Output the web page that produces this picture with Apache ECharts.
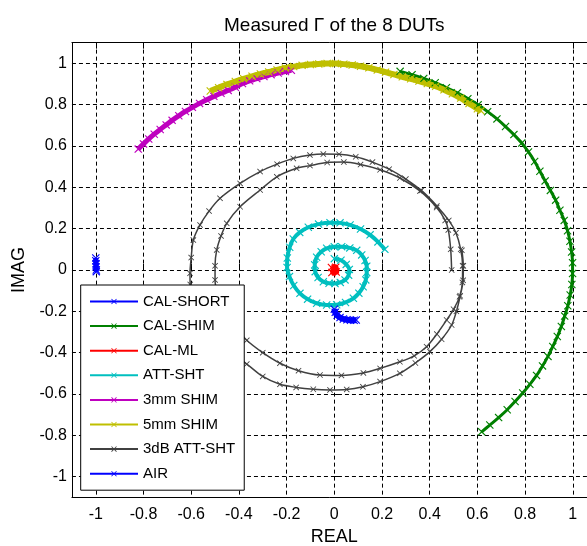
<!DOCTYPE html>
<html>
<head>
<meta charset="utf-8">
<script src="https://cdn.jsdelivr.net/npm/echarts@6/dist/echarts.min.js"></script>
<style>
  html, body { margin: 0; padding: 0; background: #fff; }
  #chart { width: 587px; height: 546px; }
</style>
</head>
<body>
<div id="chart"></div>
<script>
// Reflection coefficient traces, [REAL, IMAG] pairs
const calShort = [[-1.000, 0.058], [-1.000, 0.045], [-0.999, 0.030], [-0.999, 0.015], [-0.998, 0.000], [-0.998, -0.008]];

const calShim = [
  [0.276, 0.961], [0.326, 0.945], [0.375, 0.927], [0.423, 0.906], [0.470, 0.882], [0.516, 0.857],
  [0.560, 0.829], [0.603, 0.799], [0.643, 0.766], [0.682, 0.731], [0.718, 0.694], [0.753, 0.655],
  [0.786, 0.614], [0.814, 0.571], [0.840, 0.525], [0.862, 0.478], [0.884, 0.431], [0.906, 0.385],
  [0.928, 0.338], [0.946, 0.289], [0.964, 0.240], [0.978, 0.190], [0.988, 0.139], [0.995, 0.087],
  [0.999, 0.035], [0.999, -0.017], [0.996, -0.070], [0.989, -0.121], [0.979, -0.173], [0.966, -0.223],
  [0.952, -0.273], [0.935, -0.322], [0.916, -0.370], [0.896, -0.418], [0.873, -0.464], [0.848, -0.510],
  [0.820, -0.553], [0.790, -0.595], [0.758, -0.636], [0.725, -0.676], [0.689, -0.714], [0.652, -0.750],
  [0.618, -0.783]
];

const calMl = [[-0.012, 0.012], [0.006, 0.013], [0.008, -0.010], [-0.010, -0.012], [-0.002, 0.000]];

const attSht = [
  [0.000, 0.055], [0.028, 0.047], [0.050, 0.027], [0.063, 0.003], [0.060, -0.025], [0.045, -0.048],
  [0.025, -0.060], [0.003, -0.065], [-0.022, -0.064], [-0.046, -0.057], [-0.068, -0.036], [-0.080, -0.008],
  [-0.082, 0.025], [-0.074, 0.062], [-0.055, 0.088], [-0.032, 0.105], [0.000, 0.113], [0.031, 0.113],
  [0.065, 0.107], [0.094, 0.095], [0.115, 0.073], [0.129, 0.046], [0.136, 0.018], [0.136, -0.012],
  [0.132, -0.048], [0.121, -0.081], [0.103, -0.112], [0.080, -0.137], [0.047, -0.157], [0.010, -0.168],
  [-0.032, -0.169], [-0.074, -0.161], [-0.112, -0.141], [-0.144, -0.113], [-0.170, -0.075], [-0.188, -0.032],
  [-0.198, 0.012], [-0.197, 0.058], [-0.187, 0.110], [-0.172, 0.150], [-0.145, 0.182], [-0.109, 0.207],
  [-0.066, 0.222], [-0.018, 0.229], [0.024, 0.228], [0.066, 0.218], [0.110, 0.198], [0.150, 0.170],
  [0.183, 0.136], [0.212, 0.100]
];

const shim3mm = [
  [-0.822, 0.585], [-0.800, 0.610], [-0.778, 0.634], [-0.755, 0.657], [-0.730, 0.680], [-0.705, 0.702],
  [-0.680, 0.724], [-0.652, 0.746], [-0.624, 0.767], [-0.595, 0.787], [-0.565, 0.806], [-0.535, 0.824],
  [-0.505, 0.840], [-0.475, 0.855], [-0.445, 0.869], [-0.415, 0.884], [-0.385, 0.902], [-0.355, 0.915],
  [-0.325, 0.926], [-0.295, 0.936], [-0.265, 0.945], [-0.235, 0.953], [-0.205, 0.960], [-0.180, 0.966]
];

const shim5mm = [
  [-0.520, 0.866], [-0.485, 0.882], [-0.450, 0.898], [-0.415, 0.912], [-0.380, 0.925], [-0.345, 0.937],
  [-0.310, 0.948], [-0.275, 0.958], [-0.240, 0.968], [-0.205, 0.977], [-0.170, 0.984], [-0.135, 0.990],
  [-0.100, 0.994], [-0.065, 0.997], [-0.030, 0.999], [0.005, 0.999], [0.040, 0.996], [0.075, 0.992],
  [0.110, 0.986], [0.145, 0.978], [0.180, 0.968], [0.215, 0.957], [0.250, 0.946], [0.285, 0.935],
  [0.320, 0.925], [0.355, 0.914], [0.390, 0.902], [0.425, 0.889], [0.460, 0.872], [0.495, 0.853],
  [0.530, 0.832], [0.565, 0.806], [0.600, 0.780], [0.615, 0.770]
];

const att3dB = [
  [0.535, 0.095], [0.541, 0.020], [0.540, -0.050], [0.528, -0.125], [0.512, -0.200], [0.492, -0.266],
  [0.450, -0.335], [0.401, -0.395], [0.340, -0.450], [0.275, -0.500], [0.192, -0.540], [0.120, -0.565],
  [0.052, -0.578], [-0.018, -0.580], [-0.088, -0.577], [-0.160, -0.568], [-0.228, -0.553], [-0.300, -0.515],
  [-0.367, -0.455], [-0.440, -0.400], [-0.505, -0.330], [-0.555, -0.250], [-0.588, -0.160], [-0.604, -0.070],
  [-0.605, -0.016], [-0.600, 0.060], [-0.591, 0.145], [-0.563, 0.218], [-0.525, 0.285], [-0.479, 0.347],
  [-0.395, 0.419], [-0.311, 0.476], [-0.240, 0.512], [-0.172, 0.540], [-0.102, 0.556], [-0.046, 0.561],
  [0.020, 0.560], [0.090, 0.548], [0.160, 0.522], [0.230, 0.488], [0.300, 0.440], [0.365, 0.385],
  [0.430, 0.310], [0.480, 0.240], [0.510, 0.180], [0.530, 0.100], [0.538, 0.020], [0.537, -0.060],
  [0.525, -0.130], [0.500, -0.190], [0.471, -0.242], [0.430, -0.310], [0.387, -0.371], [0.335, -0.415],
  [0.275, -0.444], [0.192, -0.476], [0.122, -0.498], [0.030, -0.510], [-0.060, -0.508], [-0.150, -0.487],
  [-0.228, -0.451], [-0.300, -0.400], [-0.367, -0.340], [-0.420, -0.270], [-0.462, -0.190], [-0.490, -0.110],
  [-0.500, -0.048], [-0.500, 0.020], [-0.493, 0.097], [-0.475, 0.165], [-0.451, 0.226], [-0.395, 0.306],
  [-0.311, 0.387], [-0.241, 0.451], [-0.158, 0.492], [-0.102, 0.505], [-0.030, 0.520], [0.040, 0.522],
  [0.110, 0.510], [0.192, 0.485], [0.275, 0.445], [0.359, 0.382], [0.429, 0.302], [0.465, 0.240],
  [0.478, 0.194], [0.488, 0.100], [0.492, 0.000]
];

const air = [
  [0.000, -0.190], [0.004, -0.205], [0.012, -0.219], [0.024, -0.230], [0.038, -0.237],
  [0.053, -0.241], [0.068, -0.243], [0.083, -0.243], [0.092, -0.242]
];

const seriesNames = ['CAL-SHORT', 'CAL-SHIM', 'CAL-ML', 'ATT-SHT', '3mm SHIM', '5mm SHIM', '3dB ATT-SHT', 'AIR'];
const seriesData = [calShort, calShim, calMl, attSht, shim3mm, shim5mm, att3dB, air];
const seriesColors = ['#0000ff', '#008000', '#ff0000', '#00bfbf', '#bf00bf', '#bfbf00', '#404040', '#0000ff'];
// densely sampled traces read as a thick band of markers
const traceWidths = [5, 3, 6, 4, 5, 6, 1.5, 6];
const markSizes = [8, 8, 8, 8, 8, 8, 6, 8];

// Axis ranges and tick spacing
const axisMin = -1.1, axisMax = 1.1;
const tickMin = -1, tickMax = 1, tickStep = 0.2;

// Plot frame in pixels: value 0 sits at (334.3, 270); one unit = 238.5 px across, 206.7 px up
const X0 = 334.3, UX = 238.5, Y0 = 270, UY = 206.7;
const frame = {
  left: X0 + axisMin * UX, width: (axisMax - axisMin) * UX,
  top: Y0 - axisMax * UY, height: (axisMax - axisMin) * UY
};

const crossMark = 'path://M1,0L5,4L9,0L10,1L6,5L10,9L9,10L5,6L1,10L0,9L4,5L0,1Z';
const FONT = 'Arial, "Liberation Sans", Helvetica, sans-serif';
const dashed = { color: '#000', width: 1, type: [4, 3] };
const frameLine = { show: true, onZero: false, lineStyle: { color: '#000', width: 1 } };

const chart = echarts.init(document.getElementById('chart'), null, { renderer: 'canvas' });

const series = seriesData.map((d, i) => ({
  name: seriesNames[i],
  type: 'line',
  xAxisIndex: 0,
  yAxisIndex: 0,
  data: d,
  smooth: 0.3,
  symbol: crossMark,
  symbolSize: markSizes[i],
  showSymbol: true,
  showAllSymbol: true,
  color: seriesColors[i],
  itemStyle: { color: seriesColors[i] },
  lineStyle: { color: seriesColors[i], width: traceWidths[i] },
  emphasis: { disabled: true },
  z: 3
}));

const option = {
  animation: false,
  backgroundColor: '#fff',
  title: {
    text: 'Measured \u0393 of the 8 DUTs',
    left: X0 - 5,
    top: 11,
    textAlign: 'center',
    textStyle: { fontFamily: FONT, fontSize: 19, fontWeight: 'normal', color: '#000' }
  },
  grid: [
    // data area
    { left: frame.left, top: frame.top, width: frame.width, height: frame.height, outerBoundsMode: 'none' },
    // horizontal ticks (-1 .. 1)
    { left: X0 + tickMin * UX, width: (tickMax - tickMin) * UX, top: frame.top, height: frame.height, outerBoundsMode: 'none' },
    // vertical ticks (-1 .. 1)
    { left: frame.left, width: frame.width, top: Y0 - tickMax * UY, height: (tickMax - tickMin) * UY, outerBoundsMode: 'none' }
  ],
  xAxis: [
    { gridIndex: 0, type: 'value', min: axisMin, max: axisMax, position: 'bottom',
      axisLine: frameLine, axisTick: { show: false }, axisLabel: { show: false }, splitLine: { show: false } },
    { gridIndex: 1, type: 'value', min: tickMin, max: tickMax, interval: tickStep, position: 'bottom',
      axisLine: { show: false },
      axisTick: { show: true, inside: true, length: 6, lineStyle: { color: '#000', width: 1 } },
      axisLabel: { show: true, margin: 9, color: '#000', fontFamily: FONT, fontSize: 16 },
      splitLine: { show: true, lineStyle: dashed },
      name: 'REAL', nameLocation: 'middle', nameGap: 31,
      nameTextStyle: { fontFamily: FONT, fontSize: 18, color: '#000' } },
    { gridIndex: 1, type: 'value', min: tickMin, max: tickMax, interval: tickStep, position: 'top',
      axisLine: { show: false },
      axisTick: { show: true, inside: true, length: 6, lineStyle: { color: '#000', width: 1 } },
      axisLabel: { show: false }, splitLine: { show: false } },
    { gridIndex: 2, type: 'value', min: axisMin, max: axisMax, show: false },
    { gridIndex: 0, type: 'value', min: axisMin, max: axisMax, position: 'top',
      axisLine: frameLine, axisTick: { show: false }, axisLabel: { show: false }, splitLine: { show: false } }
  ],
  yAxis: [
    { gridIndex: 0, type: 'value', min: axisMin, max: axisMax, position: 'left',
      axisLine: frameLine, axisTick: { show: false }, axisLabel: { show: false }, splitLine: { show: false } },
    { gridIndex: 1, type: 'value', min: axisMin, max: axisMax, show: false },
    { gridIndex: 2, type: 'value', min: tickMin, max: tickMax, interval: tickStep, position: 'left',
      axisLine: { show: false },
      axisTick: { show: true, inside: true, length: 6, lineStyle: { color: '#000', width: 1 } },
      axisLabel: { show: true, margin: 5, color: '#000', fontFamily: FONT, fontSize: 16 },
      splitLine: { show: true, lineStyle: dashed },
      name: 'IMAG', nameLocation: 'middle', nameGap: 42,
      nameTextStyle: { fontFamily: FONT, fontSize: 18, color: '#000' } }
  ],
  legend: {
    orient: 'vertical',
    left: 80.7,
    top: 285,
    padding: [9, 9, 9, 8.3],
    itemWidth: 48,
    itemHeight: 7,
    itemGap: 9.6,
    data: seriesNames.map(n => ({ name: n })),
    backgroundColor: '#fff',
    borderColor: '#000',
    borderWidth: 1,
    borderRadius: 0,
    lineStyle: { width: 2 },
    textStyle: { fontFamily: FONT, fontSize: 15, color: '#000' },
    selectedMode: false,
    z: 10
  },
  series: series
};

chart.setOption(option);
</script>
</body>
</html>
